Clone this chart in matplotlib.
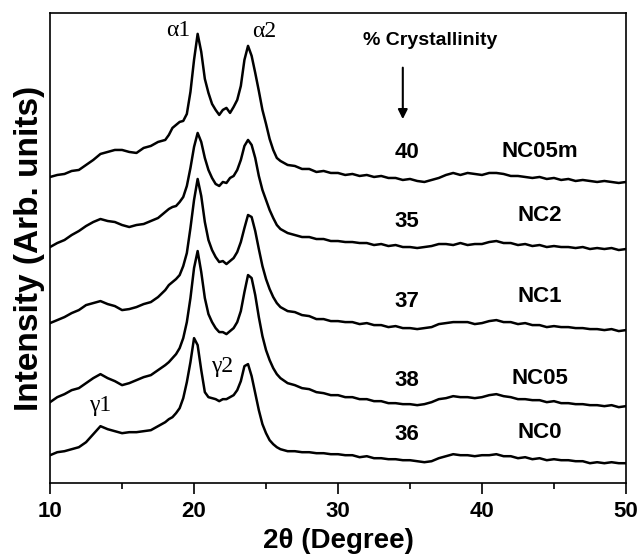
import matplotlib
matplotlib.use('Agg')
import matplotlib.pyplot as plt
from matplotlib.ticker import MultipleLocator

# 2-theta grid (degrees)
two_theta = [10.0, 10.5, 11.0, 11.5, 12.0, 12.5, 13.0, 13.5, 14.0, 14.5, 15.0, 15.5,
             16.0, 16.5, 17.0, 17.5, 18.0,
             18.25, 18.5, 18.75, 19.0, 19.25, 19.5, 19.75, 20.0, 20.25, 20.5, 20.75,
             21.0, 21.25, 21.5, 21.75, 22.0, 22.25, 22.5, 22.75, 23.0, 23.25, 23.5,
             23.75, 24.0, 24.25, 24.5, 24.75, 25.0, 25.25, 25.5, 25.75, 26.0,
             26.5, 27.0, 27.5, 28.0, 28.5, 29.0, 29.5, 30.0, 30.5, 31.0, 31.5, 32.0,
             32.5, 33.0, 33.5, 34.0, 34.5, 35.0, 35.5, 36.0, 36.5, 37.0, 37.5, 38.0,
             38.5, 39.0, 39.5, 40.0, 40.5, 41.0, 41.5, 42.0, 42.5, 43.0, 43.5, 44.0,
             44.5, 45.0, 45.5, 46.0, 46.5, 47.0, 47.5, 48.0, 48.5, 49.0, 49.5, 50.0]

# stacked intensities (arb. units)
nc05m = [306, 308, 309, 312, 313, 318, 323, 329, 331, 333, 333, 331, 330, 335, 337, 341, 343,
         348, 355, 358, 361, 362, 369, 391, 423, 449, 431, 404, 390, 379, 373, 368, 373, 375,
         370, 376, 383, 397, 423, 437, 427, 410, 392, 373, 359, 344, 333, 325, 322,
         318, 317, 314, 314, 311, 312, 310, 310, 308, 309, 307, 308, 306, 307, 305, 305,
         303, 304, 302, 301, 303, 305, 308, 310, 308, 310, 309, 308, 310, 310, 309, 307,
         307, 306, 305, 306, 304, 305, 303, 304, 302, 303, 302, 301, 302, 301, 300, 301]

nc2 = [236, 240, 243, 248, 252, 257, 261, 264, 262, 261, 258, 256, 258, 259, 262, 265, 271,
       274, 276, 277, 281, 286, 297, 315, 336, 350, 341, 325, 313, 305, 299, 297, 301, 300,
       305, 307, 313, 323, 337, 343, 338, 325, 307, 293, 283, 273, 265, 258, 254,
       250, 248, 246, 246, 244, 244, 242, 242, 241, 241, 240, 240, 238, 239, 237, 238,
       236, 236, 235, 236, 237, 239, 239, 238, 240, 238, 239, 239, 241, 242, 240, 240,
       238, 239, 237, 238, 236, 237, 236, 236, 235, 236, 234, 235, 234, 235, 233, 234]

nc1 = [160, 163, 166, 170, 173, 178, 180, 182, 179, 177, 173, 174, 176, 179, 181, 186, 193,
       198, 201, 204, 208, 217, 230, 255, 283, 304, 287, 261, 243, 233, 226, 221, 222, 219,
       222, 225, 231, 241, 255, 268, 266, 252, 234, 217, 204, 194, 186, 180, 176,
       172, 171, 168, 167, 164, 164, 162, 162, 161, 161, 159, 160, 158, 158, 156, 157,
       155, 155, 154, 155, 156, 159, 160, 161, 161, 161, 159, 160, 162, 163, 161, 161,
       159, 160, 158, 158, 156, 157, 156, 156, 155, 155, 154, 154, 153, 154, 152, 153]

nc05 = [81, 86, 89, 93, 95, 100, 105, 109, 105, 102, 98, 100, 103, 106, 108, 113, 118,
        121, 125, 129, 135, 145, 161, 185, 215, 232, 211, 185, 169, 161, 155, 151, 151, 149,
        152, 155, 161, 172, 191, 208, 205, 188, 166, 147, 133, 123, 115, 109, 105,
        100, 98, 95, 94, 91, 90, 88, 88, 86, 86, 84, 84, 82, 82, 80, 80,
        79, 79, 78, 79, 81, 84, 85, 87, 86, 86, 85, 86, 88, 89, 87, 86,
        84, 84, 83, 83, 81, 82, 80, 80, 79, 79, 78, 78, 77, 78, 76, 77]

nc0 = [28, 31, 32, 34, 36, 41, 49, 57, 54, 52, 50, 51, 51, 52, 53, 57, 61,
       64, 66, 70, 75, 85, 101, 121, 145, 138, 113, 91, 86, 85, 84, 82, 84, 84,
       86, 88, 93, 102, 117, 119, 107, 90, 73, 59, 50, 43, 39, 36, 34,
       32, 32, 31, 31, 30, 30, 29, 29, 28, 28, 26, 27, 25, 25, 24, 24,
       23, 23, 22, 21, 22, 25, 27, 29, 28, 28, 27, 28, 28, 29, 27, 27,
       25, 26, 24, 25, 23, 24, 23, 23, 22, 22, 20, 21, 20, 21, 20, 20]

samples = ['NC05m', 'NC2', 'NC1', 'NC05', 'NC0']
crystallinity = ['40', '35', '37', '38', '36']
curves = [nc05m, nc2, nc1, nc05, nc0]
# label heights for each sample (same units as intensity)
label_y = [330, 262, 182, 103, 49]
name_y = [331, 268, 187, 105, 51]

fig = plt.figure(figsize=(6.42, 5.58), dpi=100)
ax = fig.add_axes([0.078, 0.134, 0.897, 0.843])

for c in curves:
    ax.plot(two_theta, c, color='black', lw=1.8)

ax.set_xlim(10, 50)
ax.set_ylim(0, 470)
ax.xaxis.set_major_locator(MultipleLocator(10))
ax.xaxis.set_minor_locator(MultipleLocator(5))
ax.set_yticks([])
ax.tick_params(axis='x', which='major', direction='out', length=8, width=1.2,
               labelsize=16, pad=5)
ax.tick_params(axis='x', which='minor', direction='out', length=4, width=1.2)
for lbl in ax.get_xticklabels():
    lbl.set_fontweight('bold')
    lbl.set_family('Liberation Sans')
for s in ax.spines.values():
    s.set_linewidth(1.2)

ax.set_xlabel('2\u03b8 (Degree)', fontsize=20, fontweight='bold',
              family='Liberation Sans', labelpad=4)
ax.set_ylabel('Intensity (Arb. units)', fontsize=24, fontweight='bold',
              family='Liberation Sans', labelpad=4)

# sample names and crystallinity values
for name, cr, ly, ny in zip(samples, crystallinity, label_y, name_y):
    ax.text(34.8, ly, cr, fontsize=16, fontweight='bold', family='Liberation Sans',
            ha='center', va='center')
    ax.text(44.0, ny, name, fontsize=16, fontweight='bold', family='Liberation Sans',
            ha='center', va='center')

ax.text(36.4, 442, '% Crystallinity', fontsize=14, fontweight='bold',
        family='Liberation Sans', ha='center', va='center')
ax.annotate('', xy=(34.5, 361), xytext=(34.5, 418),
            arrowprops=dict(arrowstyle='-|>', color='black', lw=1.5, mutation_scale=14))

# peak labels
serif = 'Liberation Serif'
ax.text(18.9, 452, '\u03b11', fontsize=17, family=serif, ha='center', va='center')
ax.text(24.9, 451, '\u03b12', fontsize=17, family=serif, ha='center', va='center')
ax.text(13.5, 78, '\u03b31', fontsize=17, family=serif, ha='center', va='center')
ax.text(21.95, 117, '\u03b32', fontsize=17, family=serif, ha='center', va='center')

fig.savefig('out.png', dpi=100)
